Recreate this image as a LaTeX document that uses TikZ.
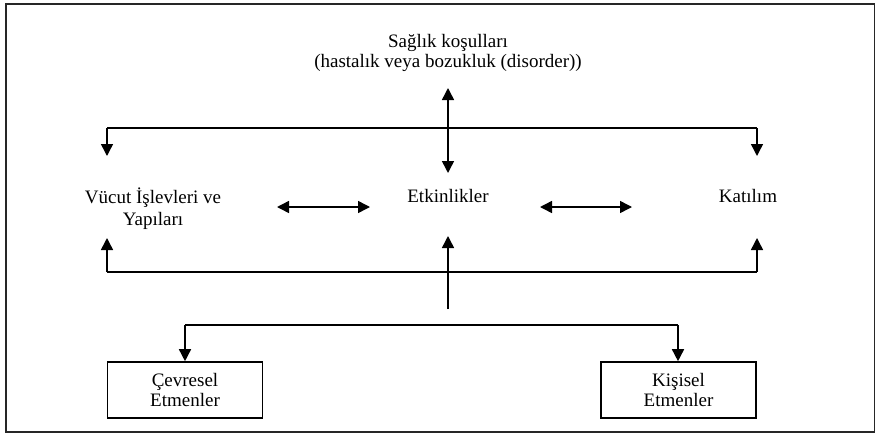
\documentclass[tikz,border=0pt]{standalone}
\usepackage{fontspec}
\setmainfont{Liberation Serif}
\usetikzlibrary{arrows.meta}
\tikzset{
  lbl/.style={font=\fontsize{19}{22}\selectfont, align=center, inner sep=0pt},
  boxnode/.style={draw, line width=1.6pt, minimum width=155pt, minimum height=56pt, inner sep=0pt, font=\fontsize{19}{20}\selectfont, align=center},
  conn/.style={line width=1.5pt, -{Triangle[length=12pt,width=12pt]}},
  conn2/.style={line width=1.5pt, {Triangle[length=12pt,width=12pt]}-{Triangle[length=12pt,width=12pt]}},
  plain/.style={line width=1.5pt},
  frame/.style={line width=2pt, draw=black!85}
}
\begin{document}
\begin{tikzpicture}[x=1pt,y=-1pt]
\useasboundingbox (0,0) rectangle (875,434);
\draw[frame] (6,4) rectangle (875,432);

\node[lbl, font=\fontsize{19}{20}\selectfont] (health) at (448,53) {Sağlık koşulları\\(hastalık veya bozukluk (disorder))};
\node[lbl] (body) at (153,209) {Vücut İşlevleri ve\\Yapıları};
\node[lbl, anchor=base] (act) at (448,202) {Etkinlikler};
\node[lbl, anchor=base] (part) at (748,202) {Katılım};
\node[boxnode] (env) at (185,390) {Çevresel\\Etmenler};
\node[boxnode] (pers) at (678.5,390) {Kişisel\\Etmenler};

% top junction
\coordinate (hTop) at (448,88);
\coordinate (aTop) at (448,173);
\coordinate (tL) at (107,128);
\coordinate (tR) at (757,128);
\coordinate (tLe) at (107,156);
\coordinate (tRe) at (757,156);
\draw[conn2] (hTop) -- (aTop);
\draw[conn] (tL) -- (tLe);
\draw[conn] (tR) -- (tRe);
\draw[plain] (tL) -- (tR);

% horizontal double arrows
\coordinate (d1a) at (277,207);
\coordinate (d1b) at (370,207);
\coordinate (d2a) at (540,207);
\coordinate (d2b) at (632,207);
\draw[conn2] (d1a) -- (d1b);
\draw[conn2] (d2a) -- (d2b);

% bottom junction
\coordinate (bL) at (107,272);
\coordinate (bR) at (757,272);
\coordinate (bLe) at (107,238);
\coordinate (bRe) at (757,238);
\coordinate (cBot) at (448,309);
\coordinate (cTop) at (448,236);
\draw[plain] (bL) -- (bR);
\draw[conn] (bL) -- (bLe);
\draw[conn] (bR) -- (bRe);
\draw[conn] (cBot) -- (cTop);

% factors
\coordinate (fL) at (185,325);
\coordinate (fR) at (678,325);
\draw[plain] (fL) -- (fR);
\draw[conn] (fL) -- (fL |- env.north);
\draw[conn] (fR) -- (fR |- pers.north);
\end{tikzpicture}
\end{document}
